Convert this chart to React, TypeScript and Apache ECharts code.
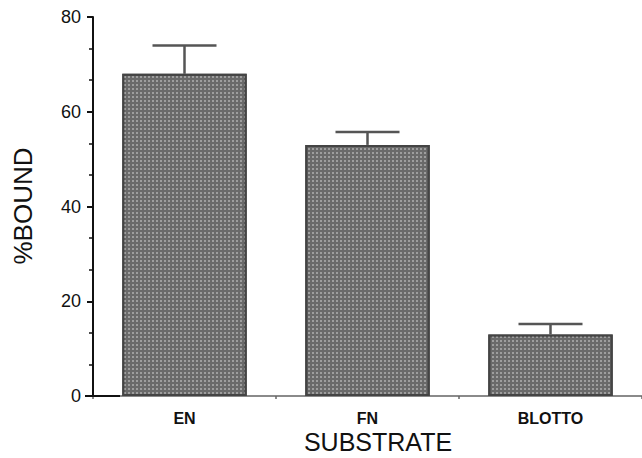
import React, { useEffect, useRef } from "react";
import * as echarts from "echarts";

const categories = ["EN", "FN", "BLOTTO"];
const boundValues = [68, 53, 13];
const errorUpper = [74, 55.7, 15.2];
const yTicks = [0, 20, 40, 60, 80];

export default function App() {
  const ref = useRef<HTMLDivElement>(null);
  useEffect(() => {
    if (!ref.current) return;
    const chart = echarts.init(ref.current, null, { renderer: "svg" });
    const font = "'Liberation Sans', Arial, Helvetica, sans-serif";
    chart.setOption({
      animation: false,
      backgroundColor: "#ffffff",
      aria: { enabled: false },
      grid: { left: 93, right: -2, top: 17, bottom: 62, containLabel: false },
      xAxis: {
        type: "category",
        data: categories,
        axisLine: { show: true, lineStyle: { color: "#8a8a8a", width: 2 } },
        axisTick: { show: true, length: 3, lineStyle: { color: "#666", width: 1.5 } },
        axisLabel: {
          margin: 14,
          color: "#111",
          fontSize: 16,
          fontWeight: "bold",
          fontFamily: font,
        },
      },
      yAxis: {
        type: "value",
        min: yTicks[0],
        max: yTicks[yTicks.length - 1],
        interval: 20,
        axisLine: { show: true, lineStyle: { color: "#111", width: 2 } },
        axisTick: { show: true, length: 6, lineStyle: { color: "#111", width: 2 } },
        minorTick: { show: true, splitNumber: 3, length: 4, lineStyle: { color: "#111", width: 1.5 } },
        splitLine: { show: false },
        axisLabel: {
          margin: 12,
          color: "#111",
          fontSize: 18,
          fontFamily: font,
        },
      },
      graphic: [
        {
          type: "text",
          x: 23,
          y: 206,
          rotation: Math.PI / 2,
          style: {
            text: "%BOUND",
            fontSize: 26,
            fontFamily: font,
            fill: "#111",
            align: "center",
            verticalAlign: "middle",
          },
        },
        {
          type: "text",
          x: 378,
          y: 442,
          style: {
            text: "SUBSTRATE",
            fontSize: 25,
            fontFamily: font,
            fill: "#111",
            align: "center",
            verticalAlign: "middle",
          },
        },
        {
          type: "line",
          shape: { x1: 85, y1: 396, x2: 120, y2: 396 },
          style: { stroke: "#111", lineWidth: 2 },
          z: 100,
        },
      ],
      series: [
        {
          type: "bar",
          data: boundValues,
          barCategoryGap: "32%",
          itemStyle: {
            color: "#6a6a6a",
            borderColor: "#444",
            borderWidth: 2,
            decal: {
              symbol: "rect",
              symbolSize: 1,
              dashArrayX: [2, 2],
              dashArrayY: [2, 2],
              color: "rgba(200,200,200,0.55)",
              rotation: 0,
            },
          },
        },
        {
          type: "custom",
          data: categories.map((c, i) => [i, boundValues[i], errorUpper[i]]),
          renderItem: (params: any, api: any) => {
            const idx = api.value(0);
            const base = api.coord([idx, api.value(1)]);
            const top = api.coord([idx, api.value(2)]);
            const half = 32;
            const style = { stroke: "#555", lineWidth: 2.5 };
            return {
              type: "group",
              children: [
                { type: "line", shape: { x1: base[0], y1: base[1], x2: top[0], y2: top[1] }, style },
                { type: "line", shape: { x1: top[0] - half, y1: top[1], x2: top[0] + half, y2: top[1] }, style },
              ],
            };
          },
          z: 10,
        },
      ],
    });
    return () => chart.dispose();
  }, []);
  return (
    <div
      ref={ref}
      style={{ position: "fixed", left: 0, top: 0, width: 642, height: 458, background: "#fff" }}
    />
  );
}
